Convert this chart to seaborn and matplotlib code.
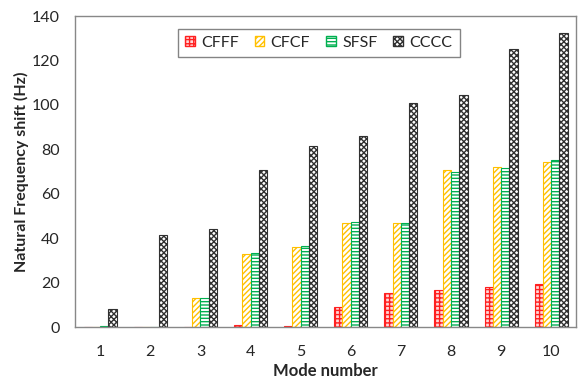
import numpy as np
import pandas as pd
import matplotlib
matplotlib.use('Agg')
import matplotlib.pyplot as plt
import seaborn as sns
from matplotlib.patches import Patch

modes = [1, 2, 3, 4, 5, 6, 7, 8, 9, 10]
cases = ['CFFF', 'CFCF', 'SFSF', 'CCCC']
cfff = [0.1, 0.2, 0.0, 1.0, 0.3, 9.0, 15.5, 16.5, 18.0, 19.5]
cfcf = [0.1, 0.0, 13.0, 33.0, 36.0, 47.0, 47.0, 70.5, 72.0, 74.5]
sfsf = [0.3, 0.2, 13.0, 33.3, 36.3, 47.3, 47.0, 70.0, 71.5, 75.0]
cccc = [8.0, 41.5, 44.0, 70.8, 81.3, 85.8, 101.0, 104.5, 125.2, 132.5]

df = pd.DataFrame({
    'Mode': modes * 4,
    'Shift': cfff + cfcf + sfsf + cccc,
    'Case': [c for c in cases for _ in modes],
})

sns.set_style('white')
plt.rcParams['font.family'] = ['Lato', 'DejaVu Sans']
plt.rcParams['hatch.linewidth'] = 1.0

# face color, hatch/edge color, hatch pattern
styles = {
    'CFFF': ('#ffd8d8', '#ff2020', '++++'),
    'CFCF': ('white', '#ffc000', '//////'),
    'SFSF': ('white', '#00b050', '-----'),
    'CCCC': ('white', '#303030', 'xxxxxx'),
}

fig = plt.figure(figsize=(5.78, 3.83), dpi=100)
ax = fig.add_axes([0.13, 0.146, 0.867, 0.812])
sns.barplot(data=df, x='Mode', y='Shift', hue='Case', hue_order=cases,
            width=0.66, saturation=1, legend=False, ax=ax,
            palette=[styles[c][0] for c in cases])

for cont, c in zip(ax.containers, cases):
    face, edge, hatch = styles[c]
    for p in cont:
        p.set_facecolor(face)
        p.set_edgecolor(edge)
        p.set_hatch(hatch)
        p.set_linewidth(0.8)

ax.set_ylim(0, 140)
ax.set_yticks(np.arange(0, 141, 20))
ax.set_xlabel('Mode number', fontsize=12, fontweight='bold', labelpad=3)
ax.set_ylabel('Natural Frequency shift (Hz)', fontsize=11.5, fontweight='bold', labelpad=2)
ax.tick_params(axis='y', length=0, labelsize=11.5, pad=11)
ax.tick_params(axis='x', length=0, labelsize=11.5, pad=13)
for s in ax.spines.values():
    s.set_color('#888888')
    s.set_linewidth(1)

handles = [Patch(facecolor=styles[c][0], edgecolor=styles[c][1], hatch=styles[c][2], label=c)
           for c in cases]
leg = ax.legend(handles=handles, ncol=4, loc='upper center', bbox_to_anchor=(0.486, 0.985),
                fontsize=11.5, frameon=True, fancybox=False, handlelength=0.6,
                handleheight=0.6, handletextpad=0.4, columnspacing=1.0,
                borderpad=0.45)
leg.get_frame().set_edgecolor('#666666')
leg.get_frame().set_linewidth(1)

fig.savefig('out.png', dpi=100)
